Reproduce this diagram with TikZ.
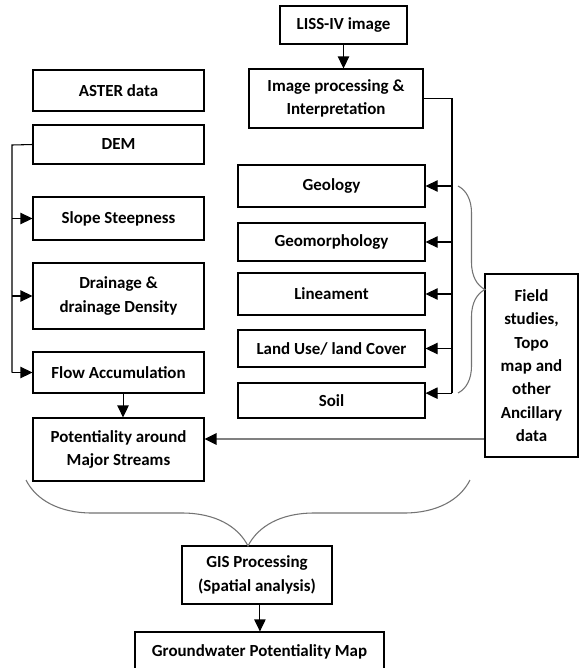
\documentclass[tikz,border=0pt]{standalone}
\usepackage{fontspec}
\setmainfont{Carlito}
\usetikzlibrary{arrows.meta,decorations.pathreplacing}
\definecolor{braceg}{rgb}{0.45,0.45,0.45}
\definecolor{feedg}{rgb}{0.5,0.5,0.5}

\tikzset{
  box/.style={draw, line width=0.8pt, inner sep=1pt, align=center,
    font=\fontsize{12.7}{17.5}\selectfont\bfseries},
  dims/.style 2 args={minimum width=#1*0.75pt, minimum height=#2*0.75pt},
  link/.style={line width=0.8pt, -{Triangle[length=9pt,width=8.5pt]}},
  bus/.style={line width=0.8pt},
  feed/.style={line width=1.6pt, color=feedg, -{Triangle[length=9pt,width=8.5pt,color=black]}},
  bracket/.style={line width=0.8pt, color=braceg, decorate}
}

\begin{document}
\begin{tikzpicture}[x=0.75pt, y=-0.75pt]
  % page frame
  \clip (0,0) rectangle (579,668);
  \fill[white] (0,0) rectangle (579,668);

  % left column
  \node[box, dims={171}{41}] (aster) at (118.5,90.5) {ASTER data};
  \node[box, dims={171}{39}] (dem) at (118.5,144.5) {DEM};
  \node[box, dims={171}{43}] (slope) at (118.5,218.5) {Slope Steepness};
  \node[box, dims={171}{66}] (drain) at (118.5,296) {Drainage \&\\drainage Density};
  \node[box, dims={171}{41}] (flow) at (118.5,372.5) {Flow Accumulation};
  \node[box, dims={171}{63}] (potent) at (118.5,449.5) {Potentiality around\\Major Streams};

  % right column
  \node[box, dims={127}{38}] (liss) at (343.5,25) {LISS-IV image};
  \node[box, dims={174}{59}] (imgproc) at (336,98.5) {Image processing \&\\Interpretation};
  \node[box, dims={187}{42}] (geo) at (331.5,186) {Geology};
  \node[box, dims={187}{38}] (geomorph) at (331.5,242) {Geomorphology};
  \node[box, dims={187}{42}] (linea) at (331.5,294) {Lineament};
  \node[box, dims={187}{37}] (landuse) at (331.5,348.5) {Land Use/ land Cover};
  \node[box, dims={187}{35}] (soil) at (331.5,400.5) {Soil};
  \node[box, dims={93}{183}] (field) at (531.5,365.5) {Field\\studies,\\Topo\\map and\\other\\Ancillary\\data};

  % bottom
  \node[box, dims={150}{58}] (gis) at (257,575) {GIS Processing\\(Spatial analysis)};
  \node[box, dims={249}{40}] (gwmap) at (259.5,652) {Groundwater Potentiality Map};

  % draws the DEM branches
  \coordinate (lbus) at (12,145);
  \draw[bus] (dem.west) -- (lbus) -- (lbus |- flow.west);
  \foreach \t in {slope, drain, flow}
    \draw[link] (lbus |- \t.west) -- (\t.west);
  \draw[link] ([xshift=3.4pt]flow.south) -- ([xshift=3.4pt]flow.south |- potent.north);

  % draws the interpretation branches
  \coordinate (rbus) at (452,98.5);
  \coordinate (soilin) at ([yshift=5.5pt]soil.east);
  \draw[link] (liss.south) -- (liss.south |- imgproc.north);
  \draw[bus] (imgproc.east) -- (rbus) -- (rbus |- soilin);
  \foreach \t in {geo, geomorph, linea, landuse}
    \draw[link] (rbus |- \t.east) -- (\t.east);
  \draw[link] (rbus |- soilin) -- (soilin);

  % ancillary data feed
  \coordinate (potin) at ([yshift=7.9pt]potent.east);
  \draw[feed] (potin -| field.west) -- (potin);

  % braces
  \draw[bracket, decoration={brace, amplitude=20.25pt}] (458,186) -- (458,393);
  \draw[bracket, decoration={brace, mirror, amplitude=49.5pt}] (26,480) -- (470,480);
  \draw[link] ([xshift=2.2pt]gis.south) -- ([xshift=2.2pt]gis.south |- gwmap.north);
\end{tikzpicture}
\end{document}
